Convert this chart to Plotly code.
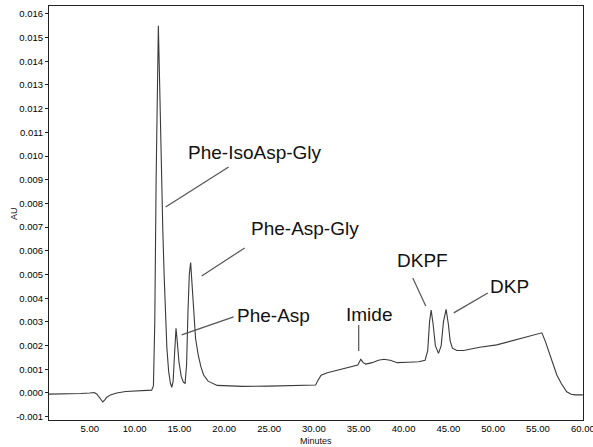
import plotly.graph_objects as go

# Chromatogram trace: retention time (minutes) and absorbance (AU)
rt_min = [
    0.45, 1.0, 2.0, 3.0, 4.0, 5.0, 5.5, 5.8, 6.0, 6.2, 6.45, 6.65, 6.9, 7.3, 8.0,
    9.0, 10.0, 11.0, 11.9, 12.1, 12.25, 12.4, 12.55, 12.65, 12.75, 12.85, 13.0,
    13.15, 13.3, 13.45, 13.6, 13.8, 14.0, 14.15, 14.3, 14.45, 14.62, 14.75, 14.95,
    15.2, 15.45, 15.63, 15.8, 15.95, 16.1, 16.25, 16.4, 16.6, 16.8, 17.1, 17.4,
    17.7, 18.2, 19.2, 20.0, 22.0, 25.0, 28.0, 30.2, 30.4, 30.8, 31.5, 32.2, 33.5,
    34.4, 34.9, 35.23, 35.5, 35.8, 36.5, 37.2, 37.8, 38.5, 39.3, 40.5, 41.7, 42.4,
    42.7, 42.9, 43.08, 43.3, 43.55, 43.9, 44.2, 44.45, 44.75, 45.0, 45.2, 45.45,
    45.95, 46.7, 48.5, 50.4, 52.6, 54.9, 55.43, 55.8, 56.36, 56.7, 57.1, 57.6,
    58.2, 58.7, 59.15, 60.0,
]
absorbance = [
    -0.00005, -0.00005, -0.00004, -0.00004, -0.00002, 0.0, 0.00002, -0.00005,
    -0.00015, -0.0003, -0.00038, -0.0003, -0.00018, -0.00008, 0.0,
    0.00006, 0.00008, 0.0001, 0.00012, 0.0003, 0.003, 0.009, 0.0145, 0.0155,
    0.0138, 0.0118, 0.0092,
    0.0068, 0.0049, 0.0032, 0.0019, 0.0009, 0.0004, 0.00024, 0.0005, 0.0016,
    0.00273, 0.0022, 0.0013,
    0.0007, 0.00045, 0.00041, 0.0012, 0.0034, 0.0050, 0.0055, 0.0047, 0.0032,
    0.0023, 0.0016, 0.0011,
    0.00076, 0.0005, 0.00032, 0.0003, 0.00028, 0.00029, 0.00032, 0.00034, 0.0005,
    0.00075, 0.00085, 0.00092, 0.00102,
    0.00111, 0.00118, 0.00142, 0.00128, 0.00122, 0.00128, 0.00138, 0.00142,
    0.00138, 0.00128, 0.0013, 0.00132, 0.00138,
    0.0018, 0.0030, 0.0035, 0.0029, 0.0020, 0.00167, 0.0020, 0.0030, 0.00353,
    0.0029, 0.0022, 0.00189,
    0.00179, 0.00179, 0.00193, 0.00203, 0.00224, 0.00249, 0.00254, 0.0022,
    0.00153, 0.0012, 0.00076, 0.0004,
    0.00005, -0.00005, -0.00008, -0.00008,
]

# Axis ticks
x_ticks = [5, 10, 15, 20, 25, 30, 35, 40, 45, 50, 55, 60]
x_tick_text = ["5.00", "10.00", "15.00", "20.00", "25.00", "30.00", "35.00",
               "40.00", "45.00", "50.00", "55.00", "60.00"]
y_ticks = [-0.001, 0.0, 0.001, 0.002, 0.003, 0.004, 0.005, 0.006, 0.007, 0.008,
           0.009, 0.010, 0.011, 0.012, 0.013, 0.014, 0.015, 0.016]
y_tick_text = ["-0.001", "0.000", "0.001", "0.002", "0.003", "0.004", "0.005",
               "0.006", "0.007", "0.008", "0.009", "0.010", "0.011", "0.012",
               "0.013", "0.014", "0.015", "0.016"]

# Peak labels: name, label centre (min, AU), leader line start and end (min, AU)
peak_names = ["Phe-IsoAsp-Gly", "Phe-Asp-Gly", "Phe-Asp", "Imide", "DKPF", "DKP"]
label_pos = [(23.39, 0.01013), (28.97, 0.00696), (25.51, 0.00325),
             (36.12, 0.00333), (42.14, 0.00557), (51.85, 0.00451)]
leader_from = [(20.49, 0.00954), (22.28, 0.00612), (21.05, 0.00321),
               (35.0, 0.00287), (41.03, 0.00485), (49.4, 0.00422)]
leader_to = [(13.46, 0.00785), (17.48, 0.00494), (15.25, 0.00245),
             (35.0, 0.00177), (42.48, 0.00367), (45.6, 0.00338)]

fig = go.Figure()
fig.add_trace(go.Scatter(
    x=rt_min, y=absorbance, mode="lines",
    line=dict(color="#3a3a3a", width=1.1),
    showlegend=False, hoverinfo="skip",
))

for name, (tx, ty), (x0, y0), (x1, y1) in zip(peak_names, label_pos, leader_from, leader_to):
    fig.add_annotation(x=tx, y=ty, text=name, showarrow=False,
                       xanchor="center", yanchor="middle",
                       font=dict(family="Arial", size=19, color="#111111"))
    fig.add_shape(type="line", x0=x0, y0=y0, x1=x1, y1=y1,
                  line=dict(color="#555555", width=1.2))

tick_font = dict(family="Arial", size=9.5, color="#000000")
fig.update_xaxes(
    range=[0.45, 60.02], tickvals=x_ticks, ticktext=x_tick_text,
    tickfont=tick_font, showgrid=False, zeroline=False,
    showline=True, linecolor="#222222", linewidth=1, mirror=True,
    ticks="", ticklen=0, ticklabeloverflow="allow", automargin=False,
)
fig.update_yaxes(
    range=[-0.00114, 0.01633], tickvals=y_ticks, ticktext=y_tick_text,
    tickfont=tick_font, showgrid=False, zeroline=False,
    showline=True, linecolor="#222222", linewidth=1, mirror=True,
    ticks="outside", ticklen=3, tickcolor="#222222", automargin=False,
)

fig.add_annotation(text="Minutes", xref="paper", yref="paper", x=0.5, y=-0.0507,
                   showarrow=False, xanchor="center", yanchor="middle",
                   font=dict(family="Arial", size=9, color="#111111"))
fig.add_annotation(text="AU", xref="paper", yref="paper", x=-0.0655, y=0.4976,
                   showarrow=False, textangle=-90, xanchor="center", yanchor="middle",
                   font=dict(family="Arial", size=9, color="#111111"))

fig.update_layout(
    width=593, height=447,
    margin=dict(l=49, r=10, t=6, b=27),
    paper_bgcolor="white", plot_bgcolor="white",
)

fig.write_html("out.html")
